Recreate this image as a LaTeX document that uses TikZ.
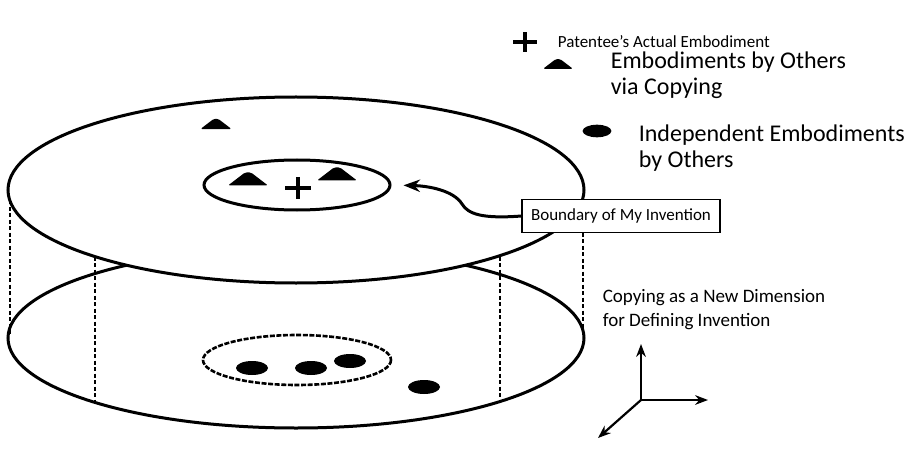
\documentclass[tikz,border=0pt]{standalone}
\usepackage{fontspec}
\setmainfont{Carlito}
\usetikzlibrary{shapes.geometric,arrows.meta}
\tikzset{
  copytri/.pic={\fill[rounded corners=1.5pt] (-20,6.5)--(-3,-6.5)--(3,-6.5)--(20,6.5)--cycle;},
  indep/.pic={\fill (0,0) ellipse (16 and 7);},
  patcross/.pic={\draw[line width=4pt] (-13,0)--(13,0) (0,-11)--(0,11);},
  wall/.style={line width=1.3pt,dash pattern=on 4pt off 2.5pt},
  legend/.style={anchor=west,align=left,font=\fontsize{24}{26}\selectfont},
}
\begin{document}
\begin{tikzpicture}[x=1pt,y=-1pt,>=Stealth,font=\fontsize{17}{25}\selectfont,line width=3pt]
  \useasboundingbox (0,0) rectangle (912,449);
  % lower disc
  \draw (296,338) ellipse (288 and 90);
  \draw[wall] (10,200)--(10,336) (583,200)--(583,336) (95,250)--(95,403) (500,250)--(500,403);
  \draw[line width=2.6pt,dash pattern=on 5pt off 1.6pt] (297,360) ellipse (94 and 25);
  \foreach \p in {(252,368),(311,368),(350,361),(424,387)} \pic at \p {indep};
  % upper disc
  \draw[fill=white] (296,190) ellipse (288 and 93);
  \node[draw,ellipse,minimum width=186pt,minimum height=50pt,inner sep=0pt] (inv) at (297,185) {};
  \pic at (298,188) {patcross};
  \foreach \p in {(248,179),(337,174)} \pic at \p {copytri};
  \pic[scale=0.78] at (216,124) {copytri};
  % label with arrow
  \node[draw,fill=white,line width=1.4pt,inner xsep=9pt,minimum height=33pt] (bnd) at (621,216) {Boundary of My Invention};
  \draw[->,shorten >=12pt] (bnd.west) .. controls (482,219) and (468,214) .. (462,204)
    .. controls (454,191) and (430,186) .. (inv.east);
  % legend
  \pic[scale=0.9] at (525,42) {patcross};
  \node[anchor=west] (lgpat) at (553,42) {Patentee’s Actual Embodiment};
  \pic[scale=0.75] at (558,64) {copytri};
  \node[legend] (lgcopy) at (606,75) {Embodiments by Others\\via Copying};
  \pic[scale=0.9] at (597,131) {indep};
  \node[legend] (lgind) at (634,148) {Independent Embodiments\\by Others};
  % new dimension
  \node[anchor=west,align=left,font=\fontsize{19}{24}\selectfont] (dim) at (598,310) {Copying as a New Dimension\\for Defining Invention};
  \coordinate (o) at (641,400);
  \coordinate (ax) at (708,400);
  \coordinate (ay) at (641,344);
  \coordinate (az) at (598,438);
  \draw[->,line width=2.2pt] (o)--(ax);
  \draw[->,line width=2.2pt] (o)--(ay);
  \draw[->,line width=2.2pt] (o)--(az);
\end{tikzpicture}
\end{document}
